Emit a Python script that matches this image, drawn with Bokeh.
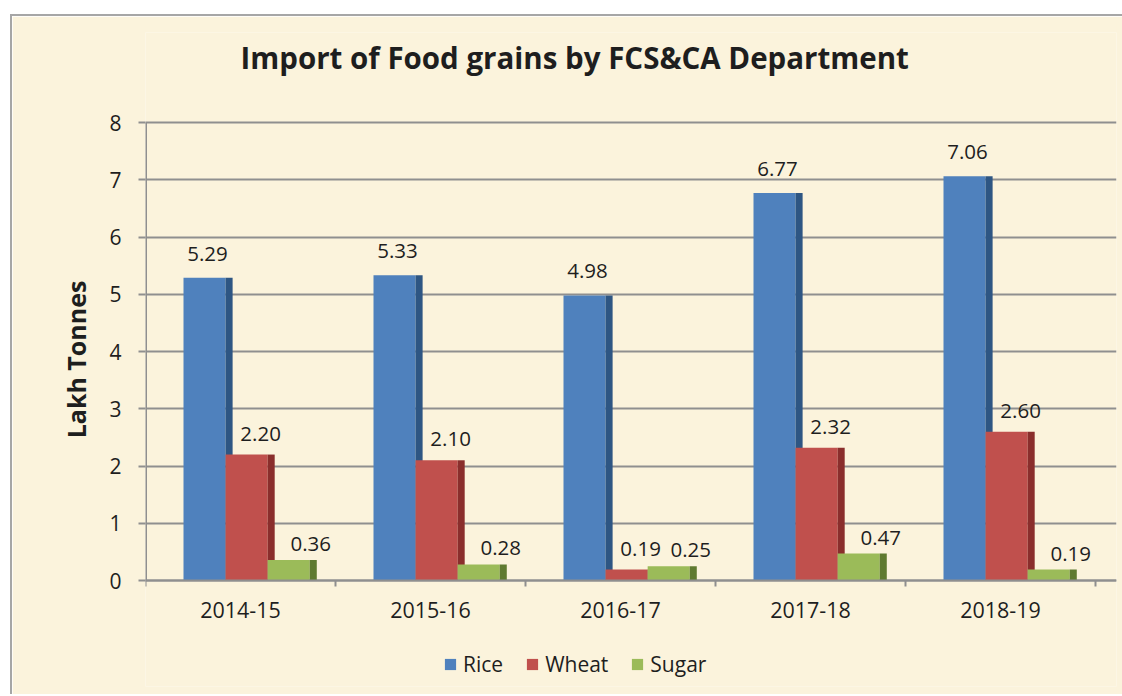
from bokeh.plotting import figure
from bokeh.models import FixedTicker, Legend, LegendItem, ColumnDataSource, LabelSet, Label
from bokeh.core.properties import value
from bokeh.embed import file_html
from bokeh.resources import INLINE

# ---- data ----
years = ["2014-15", "2015-16", "2016-17", "2017-18", "2018-19"]
rice = [5.29, 5.33, 4.98, 6.77, 7.06]
wheat = [2.20, 2.10, 0.19, 2.32, 2.60]
sugar = [0.36, 0.28, 0.25, 0.47, 0.19]
series_names = ["Rice", "Wheat", "Sugar"]
y_ticks = [0, 1, 2, 3, 4, 5, 6, 7, 8]
title_text = "Import of Food grains by FCS&CA Department"
y_label = "Lakh Tonnes"

# ---- style / layout ----
FONT = "Open Sans"
BG = "#FBF3DC"
GRID = "#8F8F8F"
TXT = "#1E1E1E"
front_colors = ["#4F81BD", "#C0504D", "#9BBB59"]
side_colors = ["#2E5683", "#8A2E2C", "#5F7A30"]
left_edges = [0.2, 0.4215, 0.643]
bar_w = 0.2215
side_w = 0.037
lab_dx = [3, 14, 22]
lab_dy = [17, 14, 9]

PX = 458 / 8.0            # pixels per value unit
CAT_PX = 190.0            # pixels per category
space_above = 90          # px of frame above the value 8 (title lives here)
space_below = 106         # px of frame below the value 0 (labels + legend)
y_lo = y_ticks[0] - space_below / PX
y_hi = y_ticks[-1] + space_above / PX
frame_h = 458 + space_above + space_below

p = figure(frame_width=971, frame_height=frame_h, x_range=(0, 971 / CAT_PX), y_range=(y_lo, y_hi),
           output_backend="svg", toolbar_location=None, title=None,
           min_border_left=133, min_border_top=16, min_border_right=6, min_border_bottom=8,
           background_fill_color=BG, border_fill_color=BG, outline_line_color=None)
p.styles = {"border-left": "2px solid #A6A6A6", "border-top": "2px solid #A6A6A6",
            "margin-top": "14px", "margin-left": "10px"}

# title (inside the frame area, above the bars)
p.add_layout(Label(x=95 / CAT_PX, y=y_ticks[-1] + 65 / PX, text=title_text,
                   text_font=FONT, text_font_size="29.5px", text_font_style="bold",
                   text_color=TXT, text_align="left", text_baseline="middle"))

# y axis
p.yaxis.ticker = FixedTicker(ticks=y_ticks)
p.yaxis.major_tick_out = 7
p.yaxis.major_tick_in = 0
p.yaxis.minor_tick_line_color = None
p.yaxis.axis_line_color = None
p.yaxis.major_tick_line_color = GRID
p.yaxis.major_tick_line_width = 2
p.yaxis.major_label_text_font = FONT
p.yaxis.major_label_text_font_size = "21px"
p.yaxis.major_label_text_color = TXT
p.yaxis.major_label_standoff = 17
p.yaxis.axis_label = y_label
p.yaxis.axis_label_text_font = FONT
p.yaxis.axis_label_text_font_size = "25px"
p.yaxis.axis_label_text_font_style = "bold"
p.yaxis.axis_label_text_color = TXT
p.yaxis.axis_label_standoff = 13
p.segment(x0=[0], y0=[y_ticks[0]], x1=[0], y1=[y_ticks[-1]],
          line_color=GRID, line_width=3)

# x axis at value 0
centers = [i + 0.5 for i in range(len(years))]
p.xaxis.fixed_location = y_ticks[0]
p.xaxis.ticker = FixedTicker(ticks=centers, minor_ticks=list(range(len(years) + 1)))
p.xaxis.major_label_overrides = {c: y for c, y in zip(centers, years)}
p.xaxis.major_tick_out = 0
p.xaxis.major_tick_in = 0
p.xaxis.minor_tick_out = 6
p.xaxis.minor_tick_in = 0
p.xaxis.minor_tick_line_color = GRID
p.xaxis.minor_tick_line_width = 2
p.xaxis.axis_line_color = GRID
p.xaxis.axis_line_width = 2
p.xaxis.major_label_text_font = FONT
p.xaxis.major_label_text_font_size = "21.5px"
p.xaxis.major_label_text_color = TXT
p.xaxis.major_label_standoff = 15

p.xgrid.visible = False
p.ygrid.ticker = FixedTicker(ticks=y_ticks)
p.ygrid.grid_line_color = GRID
p.ygrid.grid_line_width = 2

# bars
items = []
for s, (name, vals) in enumerate(zip(series_names, [rice, wheat, sugar])):
    xs = [i + left_edges[s] + bar_w / 2 for i in range(len(years))]
    xside = [i + left_edges[s] + bar_w + side_w / 2 for i in range(len(years))]
    src = ColumnDataSource(dict(x=xs, xs=xside, top=vals,
                                lab=["%.2f" % v for v in vals]))
    r = p.vbar(x="x", top="top", bottom=0, width=bar_w, source=src,
               fill_color=front_colors[s], line_color=None)
    p.vbar(x="xs", top="top", bottom=0, width=side_w, source=src,
           fill_color=side_colors[s], line_color=None)
    p.add_layout(LabelSet(x="x", y="top", text="lab", source=src,
                          x_offset=lab_dx[s], y_offset=lab_dy[s],
                          text_align="center", text_baseline="alphabetic",
                          text_font=value(FONT), text_font_size=value("20.5px"),
                          text_color=TXT))
    items.append(LegendItem(label=name, renderers=[r]))

legend = Legend(items=items, orientation="horizontal", location=(298, 8),
                label_text_font=FONT, label_text_font_size="21px", label_text_color=TXT,
                glyph_width=14, glyph_height=14, spacing=22, label_standoff=6,
                padding=0, margin=0,
                background_fill_alpha=0, border_line_color=None)
p.add_layout(legend)

open("out.html", "w").write(file_html(p, INLINE))
